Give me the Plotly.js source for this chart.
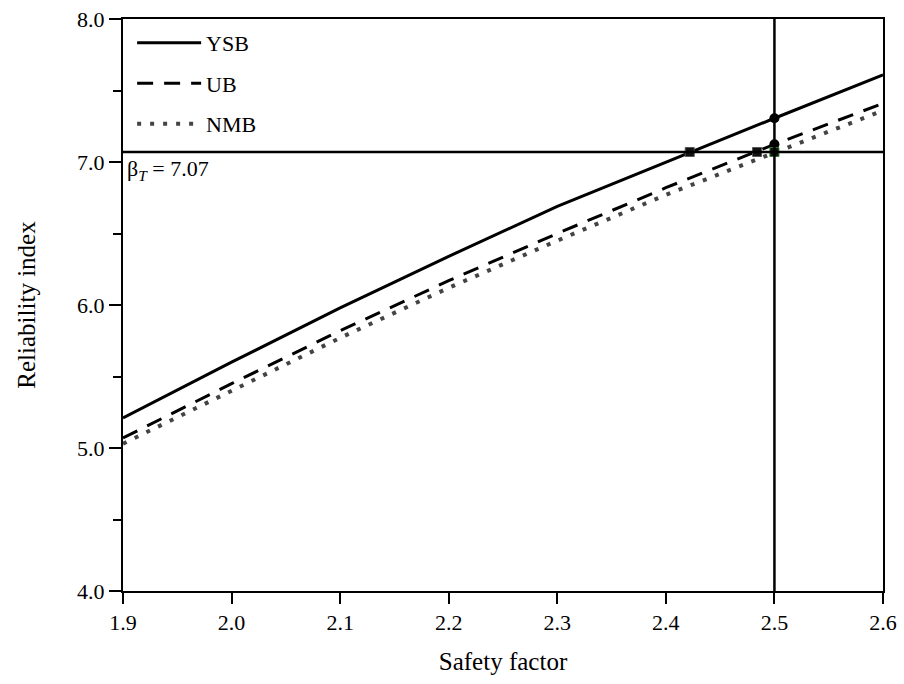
<!DOCTYPE html>
<html>
<head>
<meta charset="utf-8">
<script src="https://cdn.plot.ly/plotly-3.0.1.min.js"></script>
<style>
  html, body { margin: 0; padding: 0; background: #fff; }
  #chart { width: 904px; height: 684px; }
</style>
</head>
<body>
<div id="chart"></div>
<script>
// Safety factor vs. reliability index for three models
var safetyFactor = [1.9, 2.0, 2.1, 2.2, 2.3, 2.4, 2.5, 2.6];
var ysb = [5.21, 5.60, 5.98, 6.34, 6.69, 7.00, 7.306, 7.61];
var ub  = [5.07, 5.45, 5.82, 6.17, 6.50, 6.82, 7.124, 7.41];
var nmb = [5.03, 5.40, 5.77, 6.12, 6.45, 6.77, 7.065, 7.36];

// Target reliability and design safety factor
var betaTarget = 7.07;
var designSF = 2.5;

// Where each curve reaches the target reliability
var crossSF = [2.422, 2.484, 2.5];
var crossBeta = [7.07, 7.07, 7.07];

// Reliability at the design safety factor
var designBeta = [7.306, 7.124];

var serif = 'Liberation Serif, DejaVu Serif, serif';

var traces = [
  {
    x: safetyFactor, y: ysb, name: 'YSB', mode: 'lines', legendgroup: 'a',
    line: { color: '#000', width: 3 }
  },
  {
    x: safetyFactor, y: ub, name: 'UB', mode: 'lines', legendgroup: 'b',
    line: { color: '#000', width: 3, dash: '16px,11px' }
  },
  {
    x: safetyFactor, y: nmb, name: 'NMB', mode: 'lines', legendgroup: 'c',
    line: { color: '#444', width: 4, dash: '4px,9px' }
  },
  {
    x: [designSF, designSF], y: designBeta, mode: 'markers', showlegend: false,
    marker: { symbol: 'circle', size: 10, color: '#000' }
  },
  {
    x: crossSF.slice(0, 2), y: crossBeta.slice(0, 2), mode: 'markers', showlegend: false,
    marker: { symbol: 'square', size: 9, color: '#111', line: { color: '#555', width: 1 } }
  },
  {
    x: crossSF.slice(2), y: crossBeta.slice(2), mode: 'markers', showlegend: false,
    marker: { symbol: 'square', size: 9, color: '#111', line: { color: '#2e7d32', width: 1 } }
  }
];

var layout = {
  width: 904, height: 684,
  margin: { l: 123, r: 21, t: 19, b: 93 },
  paper_bgcolor: '#fff', plot_bgcolor: '#fff',
  font: { family: serif, size: 22, color: '#000' },
  showlegend: true,
  legend: {
    x: 0.012, y: 0.995, xanchor: 'left', yanchor: 'top',
    bgcolor: 'rgba(0,0,0,0)', borderwidth: 0,
    font: { family: serif, size: 22, color: '#000' },
    itemwidth: 64, tracegroupgap: 9
  },
  xaxis: {
    range: [1.9, 2.6], dtick: 0.1, tick0: 1.9, tickformat: '.1f',
    showgrid: false, zeroline: false,
    showline: true, linecolor: '#000', linewidth: 2, mirror: true,
    ticks: 'outside', ticklen: 11, tickwidth: 2, tickcolor: '#000',
    tickfont: { family: serif, size: 22, color: '#000' },
    title: { text: 'Safety factor', font: { family: serif, size: 25 }, standoff: 18 }
  },
  yaxis: {
    range: [4, 8], dtick: 1, tick0: 4, tickformat: '.1f',
    showgrid: false, zeroline: false,
    showline: true, linecolor: '#000', linewidth: 2, mirror: true,
    ticks: 'outside', ticklen: 12, tickwidth: 2, tickcolor: '#000',
    minor: { dtick: 0.5, ticks: 'outside', ticklen: 8, tickwidth: 2, tickcolor: '#000', showgrid: false },
    tickfont: { family: serif, size: 22, color: '#000' },
    title: { text: 'Reliability index', font: { family: serif, size: 25 }, standoff: 34 }
  },
  shapes: [
    { type: 'line', xref: 'paper', x0: 0, x1: 1, yref: 'y', y0: betaTarget, y1: betaTarget,
      line: { color: '#000', width: 2.5 } },
    { type: 'line', xref: 'x', x0: designSF, x1: designSF, yref: 'paper', y0: 0, y1: 1,
      line: { color: '#000', width: 2.5 } }
  ],
  annotations: [
    { xref: 'paper', x: 0.003, xanchor: 'left', yref: 'y', y: betaTarget, yanchor: 'top',
      yshift: -2, showarrow: false,
      text: 'β<sub><i>T</i></sub> = 7.07', font: { family: serif, size: 22, color: '#000' } }
  ]
};

Plotly.newPlot('chart', traces, layout, { staticPlot: true, displayModeBar: false });
</script>
</body>
</html>
